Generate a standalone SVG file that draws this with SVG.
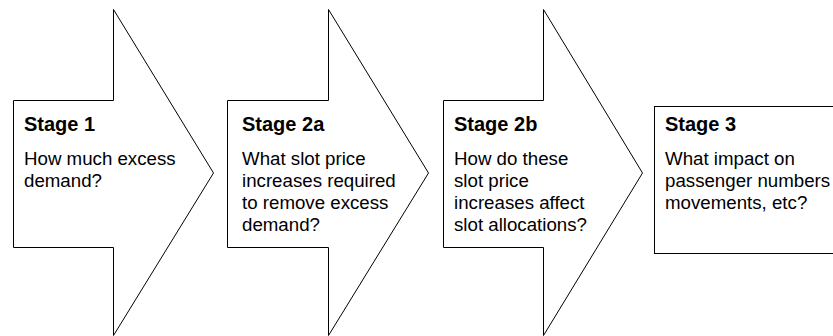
<svg xmlns="http://www.w3.org/2000/svg" width="833" height="336" viewBox="0 0 833 336">
<style>
.shape{fill:#fff;stroke:#000;stroke-width:1}
.t{font-family:"Liberation Sans",Arial,sans-serif;font-weight:bold;font-size:20px;fill:#000}
.b{font-family:"Liberation Sans",Arial,sans-serif;font-size:18.7px;fill:#000}
</style>
<rect width="833" height="336" fill="#fff"/>
<g id="stage1">
<polygon class="shape" points="13.5,100.5 113.5,100.5 113.5,9.5 213.5,173 113.5,335.5 113.5,247.5 13.5,247.5"/>
<text class="t" x="24" y="131">Stage 1</text>
<text class="b" x="24" y="165">How much excess</text>
<text class="b" x="24" y="187">demand?</text>
</g>
<g id="stage2a">
<polygon class="shape" points="227.5,100.5 328.5,100.5 328.5,9.5 428.5,173 328.5,335.5 328.5,247.5 227.5,247.5"/>
<text class="t" x="242" y="131">Stage 2a</text>
<text class="b" x="242" y="165">What slot price</text>
<text class="b" x="242" y="187">increases required</text>
<text class="b" x="242" y="209">to remove excess</text>
<text class="b" x="242" y="231">demand?</text>
</g>
<g id="stage2b">
<polygon class="shape" points="443.5,100.5 543.5,100.5 543.5,9.5 642.5,173 543.5,335.5 543.5,247.5 443.5,247.5"/>
<text class="t" x="454" y="131">Stage 2b</text>
<text class="b" x="454" y="165">How do these</text>
<text class="b" x="454" y="187">slot price</text>
<text class="b" x="454" y="209">increases affect</text>
<text class="b" x="454" y="231">slot allocations?</text>
</g>
<g id="stage3">
<rect class="shape" x="654.5" y="106.5" width="200" height="147"/>
<text class="t" x="665" y="131">Stage 3</text>
<text class="b" x="665" y="165">What impact on</text>
<text class="b" x="665" y="187">passenger numbers</text>
<text class="b" x="665" y="209">movements, etc?</text>
</g>
<g id="connectors"></g>
</svg>
